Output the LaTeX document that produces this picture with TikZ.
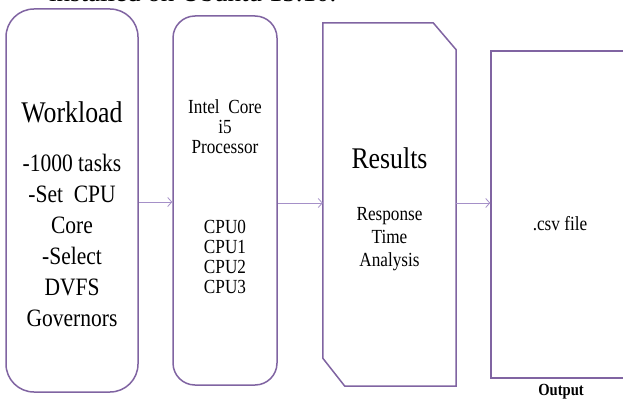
\documentclass[tikz,border=0pt]{standalone}
\usepackage{fontspec}
\setmainfont{Liberation Serif}[FakeStretch=0.86]
\newfontfamily\plainserif{Liberation Serif}
\usetikzlibrary{arrows.meta}
\definecolor{boxpurple}{HTML}{8064A2}
\definecolor{arrpurple}{HTML}{A590C8}
\tikzset{
  frame/.style={draw=boxpurple, line width=1.5pt, inner sep=0pt},
  boxline/.style={draw=boxpurple, line width=1.5pt, line join=miter},
  link/.style={draw=arrpurple, line width=0.8pt, -{Straight Barb[length=4pt,width=9pt]}},
  txt/.style={inner sep=0pt, align=center, anchor=base},
}
\begin{document}
\begin{tikzpicture}[x=1pt,y=-1pt]
\useasboundingbox (0,0) rectangle (623,401);
\fill[white] (0,0) rectangle (623,401);
\clip (0,0) rectangle (623,401);
\node[txt, anchor=base west, font=\plainserif\fontsize{27}{30}\selectfont] (cap) at (49,2) {installed on Ubuntu 15.10.};
% boxes
\node[frame, rounded corners=28pt, minimum width=132pt, minimum height=383pt] (wl) at (72,200.5) {};
\node[frame, rounded corners=22pt, minimum width=104pt, minimum height=369pt] (cpu) at (225,200.5) {};
\node[inner sep=0pt, minimum width=133pt, minimum height=363pt] (res) at (389.5,204.5) {};
\draw[boxline] ([xshift=-23pt]res.north east) -- ([yshift=-27pt]res.north east) -- (res.south east)
  -- ([xshift=22pt]res.south west) -- ([yshift=28pt]res.south west) -- (res.north west) -- cycle;
\node[frame, minimum width=136pt, minimum height=327pt] (out) at (559,214.5) {};
% texts (multi-line nodes: base = baseline of the last line)
\node[txt, font=\fontsize{30}{32}\selectfont] (wlt) at (72,122) {Workload};
\node[txt, font=\fontsize{25}{31}\selectfont] (wlb) at (72,326.6) {-1000 tasks\\-Set~~CPU\\Core\\-Select\\DVFS\\Governors};
\node[txt, font=\fontsize{20}{20}\selectfont] (cput) at (225,153.3) {Intel~~Core\\i5\\Processor};
\node[txt, font=\fontsize{20}{20}\selectfont] (cpub) at (225,293.3) {CPU0\\CPU1\\CPU2\\CPU3};
\node[txt, font=\fontsize{30}{32}\selectfont] (rest) at (389.5,168.3) {Results};
\node[txt, font=\fontsize{20}{23.3}\selectfont] (resb) at (389.5,266.7) {Response\\Time\\Analysis};
\node[txt, font=\fontsize{20}{22}\selectfont] (csv) at (560,230) {.csv file};
\node[txt, font=\bfseries\fontsize{17}{18}\selectfont] (outl) at (561,395) {Output};
% connectors
\coordinate (lvA) at (0,202);
\coordinate (lvB) at (0,203);
\draw[link] (wl.east |- lvA) -- (cpu.west |- lvA);
\draw[link] (cpu.east |- lvB) -- (res.west |- lvB);
\draw[link] (res.east |- lvB) -- (out.west |- lvB);
\end{tikzpicture}
\end{document}
